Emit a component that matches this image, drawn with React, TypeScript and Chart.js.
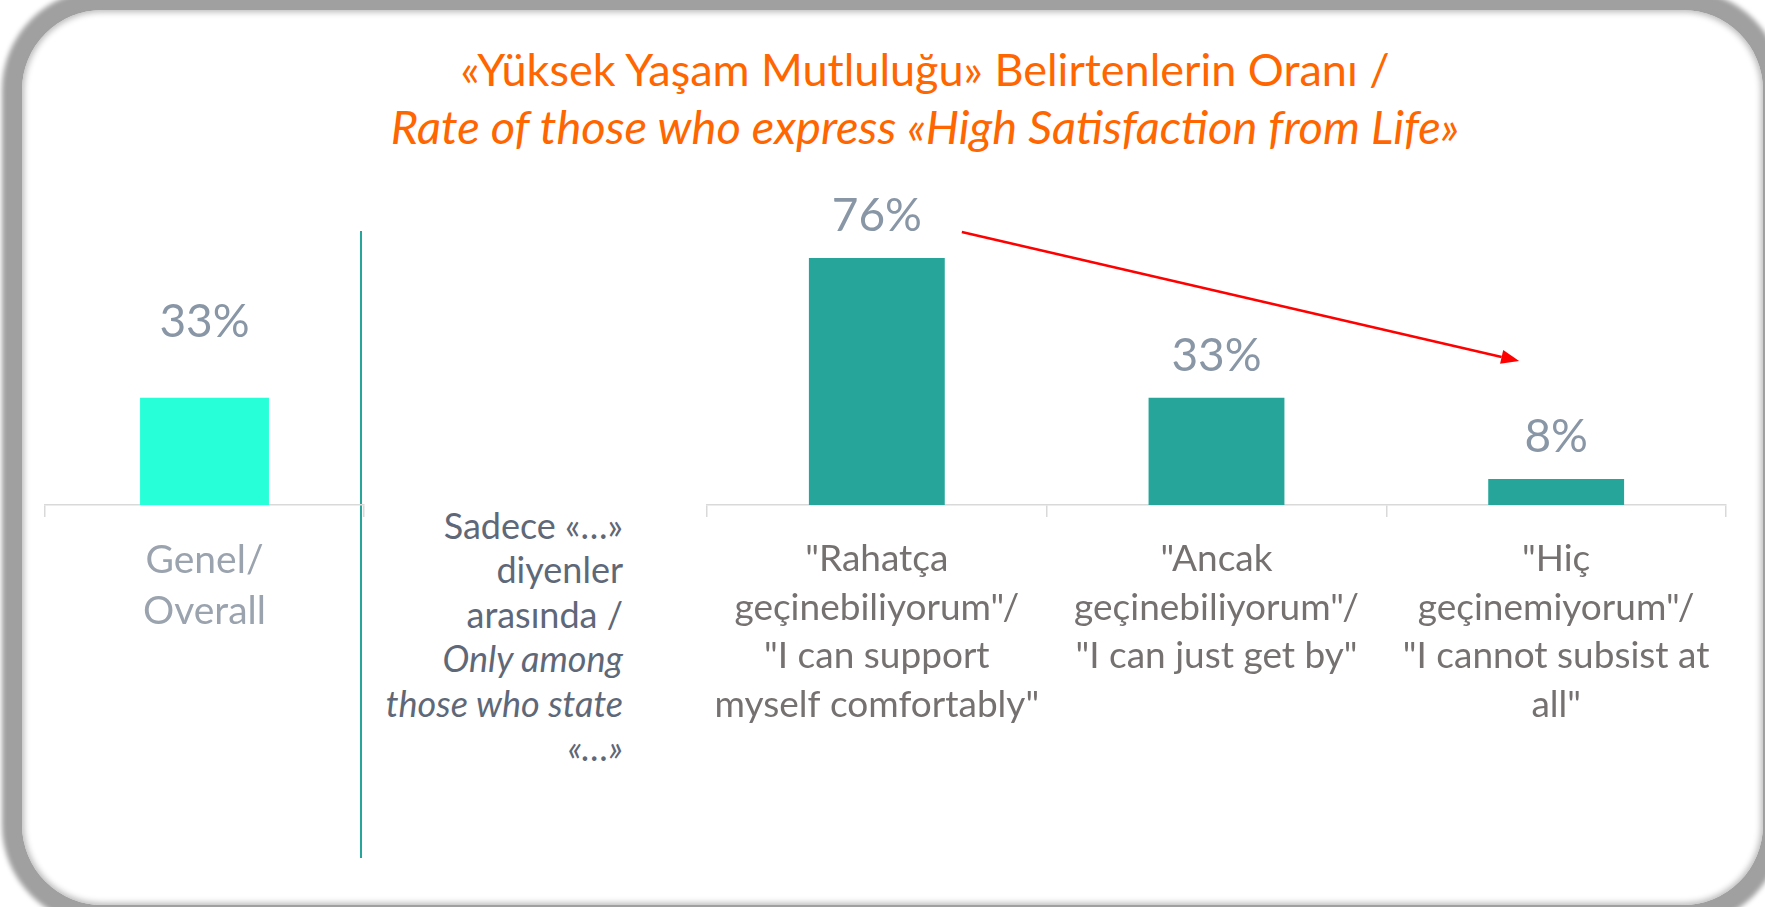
import React, { useEffect, useRef } from "react";
import { Chart, registerables } from "chart.js";

Chart.register(...registerables);

// ---------- data ----------
const titleLine1 = "«Yüksek Yaşam Mutluluğu» Belirtenlerin Oranı /";
const titleLine2 = "Rate of those who express «High Satisfaction from Life»";

const overallCategories = [["Genel/", "Overall"]];
const overallValues = [33];

const incomeCategories = [
  ['"Rahatça', 'geçinebiliyorum"/', '"I can support', 'myself comfortably"'],
  ['"Ancak', 'geçinebiliyorum"/', '"I can just get by"'],
  ['"Hiç', 'geçinemiyorum"/', '"I cannot subsist at', 'all"'],
];
const incomeValues = [76, 33, 8];

const sideNoteLines = ["Sadece «…»", "diyenler", "arasında /"];
const sideNoteItalicLines = ["Only among", "those who state", "«…»"];

// ---------- style ----------
const FONT = "Lato, 'Open Sans', sans-serif";
const ORANGE = "#FF6600";
const VALUE_COLOR = "#8896A6";
const TEAL = "#26A69A";
const AQUA = "#27FFD8";
const AXIS = "#D9D9D9";

const valueLabelPlugin = {
  id: "valueLabels",
  afterDatasetsDraw(chart: any) {
    const o = chart.options.plugins.valueLabels || {};
    const ctx = chart.ctx;
    const meta = chart.getDatasetMeta(0);
    ctx.save();
    ctx.font = `${o.size || 46}px ${FONT}`;
    ctx.fillStyle = o.color || VALUE_COLOR;
    ctx.textAlign = "center";
    ctx.textBaseline = "middle";
    meta.data.forEach((bar: any, i: number) => {
      const v = chart.data.datasets[0].data[i];
      ctx.fillText(`${v}%`, bar.x, bar.y - (o.offset || 42));
    });
    ctx.restore();
  },
};

const arrowPlugin = {
  id: "trendArrow",
  afterDatasetsDraw(chart: any) {
    const o = chart.options.plugins.trendArrow;
    if (!o || !o.enabled) return;
    const meta = chart.getDatasetMeta(0);
    const first = meta.data[0];
    const last = meta.data[meta.data.length - 1];
    const x1 = first.x + 85;
    const y1 = first.y - 26;
    const x2 = last.x - 37;
    const y2 = last.y - 118;
    const ctx = chart.ctx;
    const ang = Math.atan2(y2 - y1, x2 - x1);
    const head = 18;
    const hw = 7;
    ctx.save();
    ctx.strokeStyle = "#FF0000";
    ctx.fillStyle = "#FF0000";
    ctx.lineWidth = 2.5;
    ctx.beginPath();
    ctx.moveTo(x1, y1);
    ctx.lineTo(x2 - head * Math.cos(ang), y2 - head * Math.sin(ang));
    ctx.stroke();
    ctx.beginPath();
    ctx.moveTo(x2, y2);
    ctx.lineTo(
      x2 - head * Math.cos(ang) + hw * Math.sin(ang),
      y2 - head * Math.sin(ang) - hw * Math.cos(ang)
    );
    ctx.lineTo(
      x2 - head * Math.cos(ang) - hw * Math.sin(ang),
      y2 - head * Math.sin(ang) + hw * Math.cos(ang)
    );
    ctx.closePath();
    ctx.fill();
    ctx.restore();
  },
};

function makeConfig(
  labels: any[],
  values: number[],
  color: string,
  barPct: number,
  axisHeight: number,
  tickColor: string,
  tickSize: number,
  lineHeight: string,
  valueOffset: number,
  arrow: boolean
): any {
  return {
    type: "bar",
    data: {
      labels,
      datasets: [
        {
          data: values,
          backgroundColor: color,
          borderWidth: 0,
          barPercentage: barPct,
          categoryPercentage: 1,
        },
      ],
    },
    plugins: [valueLabelPlugin, arrowPlugin],
    options: {
      responsive: false,
      maintainAspectRatio: false,
      animation: false,
      layout: { autoPadding: false, padding: { top: 30, left: 2, right: 2, bottom: 0 } },
      plugins: {
        legend: { display: false },
        tooltip: { enabled: false },
        title: { display: false },
        valueLabels: { offset: valueOffset, size: 46, color: VALUE_COLOR },
        trendArrow: { enabled: arrow },
      },
      scales: {
        y: { display: false, min: 0, max: 100 },
        x: {
          grid: {
            display: true,
            drawOnChartArea: false,
            drawTicks: true,
            tickLength: 12,
            color: AXIS,
            lineWidth: 1.5,
            offset: true,
          },
          border: { display: true, color: AXIS, width: 1.5 },
          ticks: {
            color: tickColor,
            font: { family: FONT, size: tickSize, lineHeight },
            padding: 18,
            maxRotation: 0,
            minRotation: 0,
            autoSkip: false,
          },
          afterFit: (s: any) => {
            s.height = axisHeight;
            s.paddingLeft = 0;
            s.paddingRight = 0;
          },
        },
      },
    },
  };
}

function BarCanvas(props: {
  left: number;
  top: number;
  width: number;
  height: number;
  config: any;
}) {
  const ref = useRef<HTMLCanvasElement | null>(null);
  useEffect(() => {
    if (!ref.current) return;
    const chart = new Chart(ref.current, props.config);
    return () => chart.destroy();
  }, []);
  return (
    <canvas
      ref={ref}
      width={props.width}
      height={props.height}
      style={{
        position: "absolute",
        left: props.left,
        top: props.top,
        width: props.width,
        height: props.height,
        display: "block",
      }}
    />
  );
}

export default function App() {
  const leftConfig = makeConfig(
    overallCategories,
    overallValues,
    AQUA,
    0.404,
    165,
    "#9AA3AE",
    39,
    "51px",
    76,
    false
  );
  const rightConfig = makeConfig(
    incomeCategories,
    incomeValues,
    TEAL,
    0.4,
    245,
    "#767171",
    37,
    "48.5px",
    42,
    true
  );

  return (
    <div
      style={{
        position: "absolute",
        left: 0,
        top: 0,
        width: 1765,
        height: 907,
        overflow: "hidden",
        background: "#FFFFFF",
        fontFamily: FONT,
      }}
    >
      {/* frame */}
      <div
        style={{
          position: "absolute",
          left: 22,
          top: 10,
          width: 1741,
          height: 895,
          borderRadius: 80,
          background: "#FFFFFF",
          boxShadow: "0 0 5px 20px #A0A0A0, inset 0 0 6px 2px #B8B8B8",
        }}
      />
      {/* title */}
      <div
        style={{
          position: "absolute",
          left: 925,
          top: 41,
          transform: "translateX(-50%)",
          whiteSpace: "nowrap",
          textAlign: "center",
          color: ORANGE,
          lineHeight: "57px",
        }}
      >
        <div style={{ fontSize: 45 }}>{titleLine1}</div>
        <div style={{ fontSize: 47, fontStyle: "italic" }}>{titleLine2}</div>
      </div>
      {/* separator */}
      <div
        style={{
          position: "absolute",
          left: 360,
          top: 231,
          width: 1.5,
          height: 627,
          background: TEAL,
        }}
      />
      {/* side note */}
      <div
        style={{
          position: "absolute",
          right: 1765 - 623,
          top: 503,
          textAlign: "right",
          whiteSpace: "nowrap",
          color: "#5E6878",
          fontSize: 36,
          lineHeight: "44.4px",
        }}
      >
        {sideNoteLines.map((t, i) => (
          <div key={"n" + i}>{t}</div>
        ))}
        {sideNoteItalicLines.map((t, i) => (
          <div key={"i" + i} style={{ fontStyle: "italic" }}>
            {t}
          </div>
        ))}
      </div>
      <BarCanvas left={43} top={150} width={323} height={520} config={leftConfig} />
      <BarCanvas left={705} top={150} width={1023} height={600} config={rightConfig} />
    </div>
  );
}
